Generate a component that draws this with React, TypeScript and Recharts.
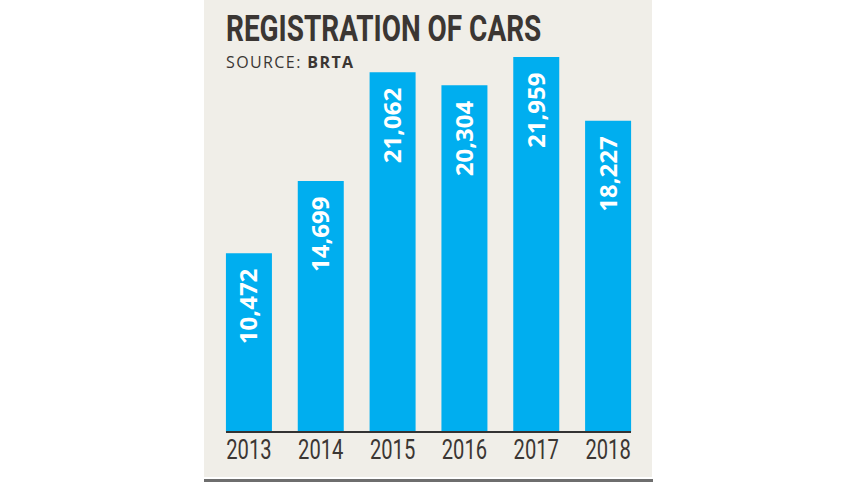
import React from 'react';
import { BarChart, Bar, XAxis, YAxis, LabelList } from 'recharts';

const years = ['2013', '2014', '2015', '2016', '2017', '2018'];
const registrations = [10472, 14699, 21062, 20304, 21959, 18227];

const data = years.map((year, i) => ({ year, cars: registrations[i] }));

const INK = '#3b3633';
const BLUE = '#00aeef';

const YearTick = (props: any) => {
  const { x, y, payload } = props;
  return (
    <text
      transform={`translate(${x},${y + 27}) scale(0.72,1)`}
      textAnchor="middle"
      fill={INK}
      style={{ fontFamily: 'Roboto', fontSize: 28 }}
    >
      {payload.value}
    </text>
  );
};

const ValueLabel = (props: any) => {
  const { x, y, width, value } = props;
  const tx = x + width / 2 + 8.5;
  const ty = y + 15.5;
  return (
    <text
      transform={`translate(${tx},${ty}) rotate(-90)`}
      textAnchor="end"
      fill="#ffffff"
      style={{ fontFamily: 'Open Sans', fontWeight: 700, fontSize: 24 }}
    >
      {value.toLocaleString('en-US')}
    </text>
  );
};

export default function App() {
  return (
    <div style={{ position: 'absolute', left: 0, top: 0, width: 857, height: 482, background: '#fff' }}>
      <div style={{ position: 'absolute', left: 204, top: 0, width: 448, height: 477, background: '#f0eee8' }}>
        <BarChart
          width={448}
          height={477}
          data={data}
          margin={{ top: 57, right: 21, bottom: 0, left: 22 }}
          barCategoryGap="18%"
        >
          <XAxis
            dataKey="year"
            axisLine={{ stroke: '#333', strokeWidth: 2 }}
            tickLine={false}
            tickSize={0}
            tickMargin={0}
            height={45}
            padding={{ left: -13, right: -13 }}
            tick={<YearTick />}
            interval={0}
          />
          <YAxis hide domain={[0, 21959]} />
          <Bar dataKey="cars" fill={BLUE} isAnimationActive={false}>
            <LabelList dataKey="cars" content={<ValueLabel />} />
          </Bar>
        </BarChart>
        <svg width={448} height={80} style={{ position: 'absolute', left: 0, top: 0 }}>
          <text
            transform="translate(22,41) scale(0.755,1)"
            fill={INK}
            style={{ fontFamily: 'Roboto', fontWeight: 700, fontSize: 37 }}
          >
            REGISTRATION OF CARS
          </text>
          <text x={22} y={68} fill={INK} style={{ fontFamily: 'Open Sans', fontSize: 16, letterSpacing: 1.4 }}>
            SOURCE: <tspan fontWeight={700}>BRTA</tspan>
          </text>
        </svg>
      </div>
      <div style={{ position: 'absolute', left: 204, top: 479, width: 449, height: 3, background: '#6e6e6e' }} />
    </div>
  );
}
